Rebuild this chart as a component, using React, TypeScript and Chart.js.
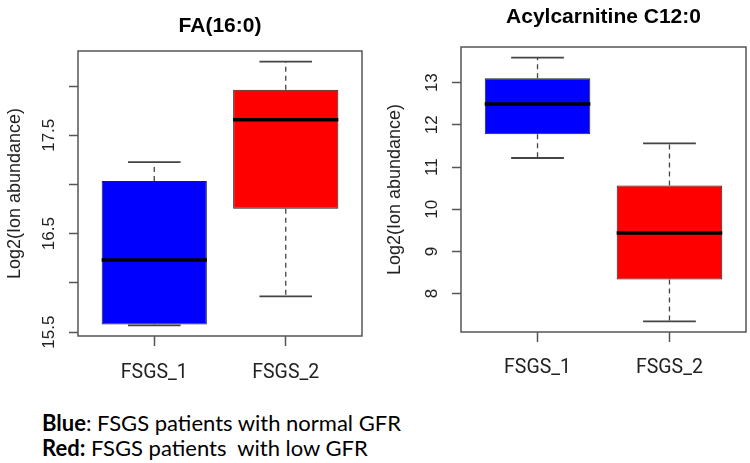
import { useEffect, useRef } from 'react';
import { Chart, registerables } from 'chart.js';

Chart.register(...registerables);

const CATEGORIES = ['FSGS_1', 'FSGS_2'];
const BOX_COLORS = ['#0000FF', '#FF0000'];
const Y_TITLE = 'Log2(Ion abundance)';

// Panel 1: FA(16:0)
const FA_TITLE = 'FA(16:0)';
const FA_LOWER_WHISKER = [15.568, 15.864];
const FA_Q1 = [15.578, 16.753];
const FA_MEDIAN = [16.232, 17.659];
const FA_Q3 = [17.036, 17.963];
const FA_UPPER_WHISKER = [17.227, 18.249];
const FA_TICKS = [15.5, 16, 16.5, 17, 17.5, 18];
const FA_TICK_LABELS = ['15.5', '', '16.5', '', '17.5', ''];

// Panel 2: Acylcarnitine C12:0
const AC_TITLE = 'Acylcarnitine C12:0';
const AC_LOWER_WHISKER = [11.214, 7.341];
const AC_Q1 = [11.778, 8.333];
const AC_MEDIAN = [12.492, 9.437];
const AC_Q3 = [13.103, 10.563];
const AC_UPPER_WHISKER = [13.595, 11.563];
const AC_TICKS = [8, 9, 10, 11, 12, 13];
const AC_TICK_LABELS = ['8', '9', '10', '11', '12', '13'];

const LEGEND_BLUE_KEY = 'Blue';
const LEGEND_BLUE_TEXT = ': FSGS patients with normal GFR';
const LEGEND_RED_KEY = 'Red:';
const LEGEND_RED_TEXT = ' FSGS patients  with low GFR';

const AXIS_FONT = '"Liberation Sans", Arial, sans-serif';
const XLABEL_FONT = 'Roboto, "Liberation Sans", Arial, sans-serif';

type PanelProps = {
  title: string;
  low: number[];
  q1: number[];
  med: number[];
  q3: number[];
  high: number[];
  ticks: number[];
  tickLabels: string[];
  left: number;
  area: { l: number; r: number; t: number; b: number };
  titleBaseline: number;
  yTitlePad: number;
  yTickPad: number;
  xTickPad: number;
};

const CW = 375;
const CH = 400;

function BoxPanel(p: PanelProps) {
  const ref = useRef<HTMLCanvasElement>(null);
  useEffect(() => {
    if (!ref.current) return;
    const lo = Math.min(...p.low);
    const hi = Math.max(...p.high);
    const ext = (hi - lo) * 0.04;
    const n = CATEGORIES.length;
    const xMin = 0.5 - n * 0.04;
    const xMax = n + 0.5 + n * 0.04;

    const boxPlugin = {
      id: 'boxParts',
      afterDatasetsDraw(chart: any) {
        const { ctx, scales } = chart;
        const x = scales.x;
        const y = scales.y;
        const meta = chart.getDatasetMeta(0);
        ctx.save();
        CATEGORIES.forEach((_, i) => {
          const bar = meta.data[i] as any;
          const cx = x.getPixelForValue(i + 1);
          const hw = bar.width / 2;
          const chw = hw / 2;
          // dashed whiskers
          ctx.strokeStyle = '#444';
          ctx.lineWidth = 1.3;
          ctx.setLineDash([5, 4]);
          ctx.beginPath();
          ctx.moveTo(cx, y.getPixelForValue(p.q3[i]));
          ctx.lineTo(cx, y.getPixelForValue(p.high[i]));
          ctx.moveTo(cx, y.getPixelForValue(p.q1[i]));
          ctx.lineTo(cx, y.getPixelForValue(p.low[i]));
          ctx.stroke();
          ctx.setLineDash([]);
          // caps
          ctx.lineWidth = 1.8;
          ctx.beginPath();
          const yh = y.getPixelForValue(p.high[i]);
          const yl = y.getPixelForValue(p.low[i]);
          ctx.moveTo(cx - chw, yh);
          ctx.lineTo(cx + chw, yh);
          ctx.moveTo(cx - chw, yl);
          ctx.lineTo(cx + chw, yl);
          ctx.stroke();
          // median
          ctx.strokeStyle = '#000';
          ctx.lineWidth = 3.5;
          ctx.beginPath();
          const ym = y.getPixelForValue(p.med[i]);
          ctx.moveTo(cx - hw, ym);
          ctx.lineTo(cx + hw, ym);
          ctx.stroke();
        });
        const a = chart.chartArea;
        ctx.strokeStyle = '#555';
        ctx.lineWidth = 1.5;
        ctx.strokeRect(a.left, a.top, a.right - a.left, a.bottom - a.top);
        ctx.fillStyle = '#000';
        ctx.font = 'bold 21px ' + AXIS_FONT;
        ctx.textAlign = 'center';
        ctx.textBaseline = 'alphabetic';
        ctx.fillText(p.title, (a.left + a.right) / 2, p.titleBaseline);
        ctx.restore();
      },
    };

    const chart = new Chart(ref.current, {
      type: 'bar',
      data: {
        datasets: [
          {
            data: CATEGORIES.map((_, i) => ({ x: i + 1, y: [p.q1[i], p.q3[i]] })) as any,
            backgroundColor: BOX_COLORS,
            borderColor: '#222',
            borderWidth: 1,
            borderSkipped: false,
            categoryPercentage: 1,
            barPercentage: 0.8,
          },
        ],
      },
      options: {
        animation: false,
        responsive: false,
        maintainAspectRatio: false,
        events: [],
        layout: { padding: { top: p.area.t, right: CW - p.area.r, bottom: 0, left: 0 } },
        plugins: { legend: { display: false }, tooltip: { enabled: false }, title: { display: false } },
        scales: {
          x: {
            type: 'linear',
            offset: false,
            min: xMin,
            max: xMax,
            bounds: 'data',
            afterBuildTicks: (s: any) => {
              s.ticks = CATEGORIES.map((_, i) => ({ value: i + 1 }));
            },
            afterFit: (s: any) => {
              s.height = CH - p.area.b;
            },
            ticks: {
              autoSkip: false,
              minRotation: 0,
              maxRotation: 0,
              padding: p.xTickPad,
              color: '#222',
              font: { family: XLABEL_FONT, size: 19.5 },
              callback: (v: any) => CATEGORIES[Math.round(Number(v)) - 1] ?? '',
            },
            grid: {
              offset: false,
              drawOnChartArea: false,
              drawTicks: true,
              tickLength: 10,
              tickColor: '#555',
              tickWidth: 1.5,
              color: '#555',
            },
            border: { display: false },
          },
          y: {
            type: 'linear',
            min: lo - ext,
            max: hi + ext,
            bounds: 'data',
            afterBuildTicks: (s: any) => {
              s.ticks = p.ticks.map((v) => ({ value: v }));
            },
            afterFit: (s: any) => {
              s.width = p.area.l;
            },
            ticks: {
              autoSkip: false,
              minRotation: 90,
              maxRotation: 90,
              crossAlign: 'center',
              padding: p.yTickPad,
              color: '#222',
              font: { family: AXIS_FONT, size: 17 },
              callback: (_v: any, idx: number) => p.tickLabels[idx] ?? '',
            },
            grid: { drawOnChartArea: false, drawTicks: true, tickLength: 9, tickColor: '#555', tickWidth: 1.5, color: '#555' },
            border: { display: false },
            title: {
              display: true,
              text: Y_TITLE,
              color: '#222',
              font: { family: AXIS_FONT, size: 18 },
              padding: { top: p.yTitlePad, bottom: 0 },
            },
          },
        },
      } as any,
      plugins: [boxPlugin],
    });
    return () => chart.destroy();
  }, []);
  return (
    <canvas
      ref={ref}
      width={CW}
      height={CH}
      style={{ position: 'absolute', left: p.left, top: 0, width: CW, height: CH }}
    />
  );
}

export default function App() {
  return (
    <div style={{ position: 'absolute', left: 0, top: 0, width: 750, height: 463, background: '#fff', overflow: 'hidden' }}>
      <BoxPanel
        title={FA_TITLE}
        low={FA_LOWER_WHISKER}
        q1={FA_Q1}
        med={FA_MEDIAN}
        q3={FA_Q3}
        high={FA_UPPER_WHISKER}
        ticks={FA_TICKS}
        tickLabels={FA_TICK_LABELS}
        left={0}
        area={{ l: 78, r: 362, t: 51, b: 336 }}
        titleBaseline={32}
        yTitlePad={4}
        yTickPad={3.5}
        xTickPad={15}
      />
      <BoxPanel
        title={AC_TITLE}
        low={AC_LOWER_WHISKER}
        q1={AC_Q1}
        med={AC_MEDIAN}
        q3={AC_Q3}
        high={AC_UPPER_WHISKER}
        ticks={AC_TICKS}
        tickLabels={AC_TICK_LABELS}
        left={375}
        area={{ l: 86, r: 371, t: 47, b: 332 }}
        titleBaseline={23}
        yTitlePad={9}
        yTickPad={10.5}
        xTickPad={14}
      />
      <div
        style={{
          position: 'absolute',
          left: 42,
          top: 410,
          fontFamily: 'Lato, "Open Sans", sans-serif',
          fontSize: 22,
          lineHeight: '25px',
          color: '#000',
          whiteSpace: 'pre',
        }}
      >
        <div>
          <b>{LEGEND_BLUE_KEY}</b>
          {LEGEND_BLUE_TEXT}
        </div>
        <div>
          <b>{LEGEND_RED_KEY}</b>
          {LEGEND_RED_TEXT}
        </div>
      </div>
    </div>
  );
}
